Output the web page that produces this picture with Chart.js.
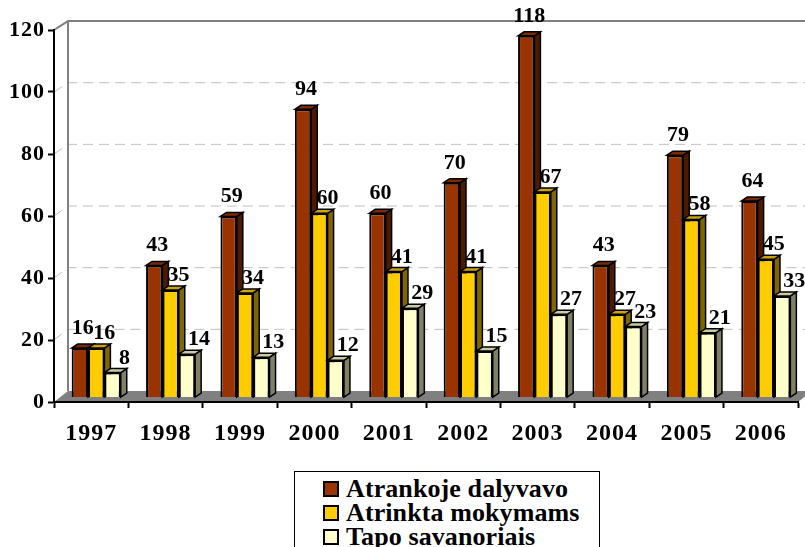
<!DOCTYPE html>
<html>
<head>
<meta charset="utf-8">
<script src="https://cdn.jsdelivr.net/npm/chart.js@4/dist/chart.umd.min.js"></script>
<style>
  html, body { margin: 0; padding: 0; width: 805px; height: 547px; overflow: hidden; background: #fff; }
  #chart { position: absolute; left: 0; top: 0; }
  #legend {
    position: absolute; left: 294px; top: 471px; width: 306px; height: 100px;
    border: 1px solid #000; background: #fff; box-sizing: border-box;
    font: bold 26px "Liberation Serif", serif; line-height: 25px; color: #000;
  }
  .row { position: absolute; left: 28px; white-space: nowrap; letter-spacing: 0.1px; }
  .box { display: inline-block; width: 12px; height: 12px; border: 2px solid #000; margin-right: 7px; }
</style>
</head>
<body>
<canvas id="chart" width="805" height="547"></canvas>
<div id="legend"></div>
<script>
const years = ['1997','1998','1999','2000','2001','2002','2003','2004','2005','2006'];
const atrankoje = [16,43,59,94,60,70,118,43,79,64];
const atrinkta  = [16,35,34,60,41,41,67,27,58,45];
const tapo      = [8,14,13,12,29,15,27,23,21,33];
const seriesNames = ['Atrankoje dalyvavo','Atrinkta mokymams','Tapo savanoriais'];
const yTicks = [0,20,40,60,80,100,120];

const FRONT = ['#993300','#ffcc00','#ffffcc'];
const SIDE  = ['#4d1a00','#806600','#808066'];
const TOP   = ['#7a2900','#cca300','#cccca3'];
const FONT  = '"Liberation Serif", serif';

const WALL_DX = 14, WALL_RIGHT = 812;   // depth of the back wall
const BAR_DX = 5;                       // bars stand a bit behind the front axis
const SIDE_DX = 6, SIDE_DY = 4;         // depth of each bar
const LABEL_DX = [3, 8, 12], LABEL_DY = [14, 9, 9];

/* ── FAKE 3D ────────────────────────────────────────────── */
function poly(ctx, pts, fill, stroke) {
  ctx.beginPath();
  pts.forEach((p, i) => i ? ctx.lineTo(p[0], p[1]) : ctx.moveTo(p[0], p[1]));
  ctx.closePath();
  ctx.fillStyle = fill;
  ctx.fill();
  if (stroke) { ctx.strokeStyle = stroke; ctx.lineWidth = 1.5; ctx.stroke(); }
}

const depth3d = {
  id: 'depth3d',
  beforeDraw(chart) {
    const { ctx, chartArea: a, scales } = chart;
    const back = v => scales.yBack.getPixelForValue(v);
    const wallX = a.left + WALL_DX;
    ctx.save();
    poly(ctx, [[a.left, a.bottom], [a.right, a.bottom], [WALL_RIGHT, back(0)], [wallX, back(0)]], '#808080');
    ctx.lineWidth = 1;
    ctx.strokeStyle = '#c0c0c0';
    ctx.setLineDash([10, 6]);
    yTicks.slice(1, -1).forEach(v => {
      ctx.beginPath();
      ctx.moveTo(a.left, scales.y.getPixelForValue(v));
      ctx.lineTo(wallX, back(v));
      ctx.lineTo(WALL_RIGHT, back(v));
      ctx.stroke();
    });
    ctx.setLineDash([]);
    ctx.lineWidth = 2;
    ctx.strokeStyle = '#808080';
    ctx.beginPath();
    ctx.moveTo(a.left, a.top);
    ctx.lineTo(wallX, back(120));
    ctx.lineTo(WALL_RIGHT, back(120));
    ctx.moveTo(wallX, back(120));
    ctx.lineTo(wallX, back(0));
    ctx.stroke();
    ctx.restore();
    ctx.letterSpacing = '1px';
  },
  // the library paints the last dataset first, here the first one has to go under the others
  beforeDatasetDraw() { return false; },
  afterDatasetsDraw(chart) {
    const ctx = chart.ctx;
    ctx.save();
    ctx.translate(BAR_DX, 0);
    chart.data.datasets.forEach((ds, i) => {
      chart.getDatasetMeta(i).data.forEach(bar => {
        const l = bar.x - bar.width / 2, r = bar.x + bar.width / 2, t = bar.y, b = bar.base;
        poly(ctx, [[r, t], [r + SIDE_DX, t - SIDE_DY], [r + SIDE_DX, b - SIDE_DY], [r, b]], SIDE[i], '#000');
        poly(ctx, [[l, t], [l + SIDE_DX, t - SIDE_DY], [r + SIDE_DX, t - SIDE_DY], [r, t]], TOP[i], '#000');
        bar.draw(ctx);
      });
    });
    ctx.letterSpacing = '0px';
    ctx.font = 'bold 22px ' + FONT;
    ctx.fillStyle = '#000';
    ctx.textAlign = 'center';
    ctx.textBaseline = 'alphabetic';
    chart.data.datasets.forEach((ds, i) => {
      chart.getDatasetMeta(i).data.forEach((bar, j) => {
        ctx.fillText(ds.data[j], bar.x + LABEL_DX[i], bar.y - LABEL_DY[i]);
      });
    });
    ctx.restore();
  }
};

/* ── CHART ──────────────────────────────────────────────── */
const seriesValues = [atrankoje, atrinkta, tapo];
new Chart(document.getElementById('chart'), {
  type: 'bar',
  plugins: [depth3d],
  data: {
    labels: years,
    datasets: seriesNames.map((name, i) => ({
      label: name,
      data: seriesValues[i],
      yAxisID: 'yBar',
      backgroundColor: FRONT[i],
      borderColor: '#000',
      borderWidth: 2,
      barPercentage: 1,
      categoryPercentage: 0.66
    }))
  },
  options: {
    responsive: false,
    animation: false,
    devicePixelRatio: 1,
    layout: { padding: { left: 0, top: 30, right: 7, bottom: 0 } },
    plugins: { legend: { display: false }, tooltip: { enabled: false } },
    scales: {
      x: {
        afterFit: s => { s.height = 145; },
        grid: { drawOnChartArea: false, tickLength: 6, tickColor: '#000', tickWidth: 2 },
        border: { color: '#000', width: 2 },
        ticks: { color: '#000', padding: 11, maxRotation: 0, font: { family: FONT, size: 24, weight: 'bold' } }
      },
      y: {
        min: 0, max: 120,
        afterFit: s => { s.width = 54; },
        grid: { drawOnChartArea: false, tickLength: 6, tickColor: '#000', tickWidth: 2 },
        border: { color: '#000', width: 2 },
        ticks: { stepSize: 20, color: '#000', padding: 3, font: { family: FONT, size: 22, weight: 'bold' } }
      },
      yBar:  { display: false, min: -1.63, max: 119.9 },
      yBack: { display: false, min: -3.57, max: 117.1 }
    }
  }
});

/* ── LEGEND ─────────────────────────────────────────────── */
document.getElementById('legend').innerHTML = seriesNames.map((name, i) =>
  `<div class="row" style="top:${4 + i * 24}px"><span class="box" style="background:${FRONT[i]}"></span>${name}</div>`
).join('');
</script>
</body>
</html>
